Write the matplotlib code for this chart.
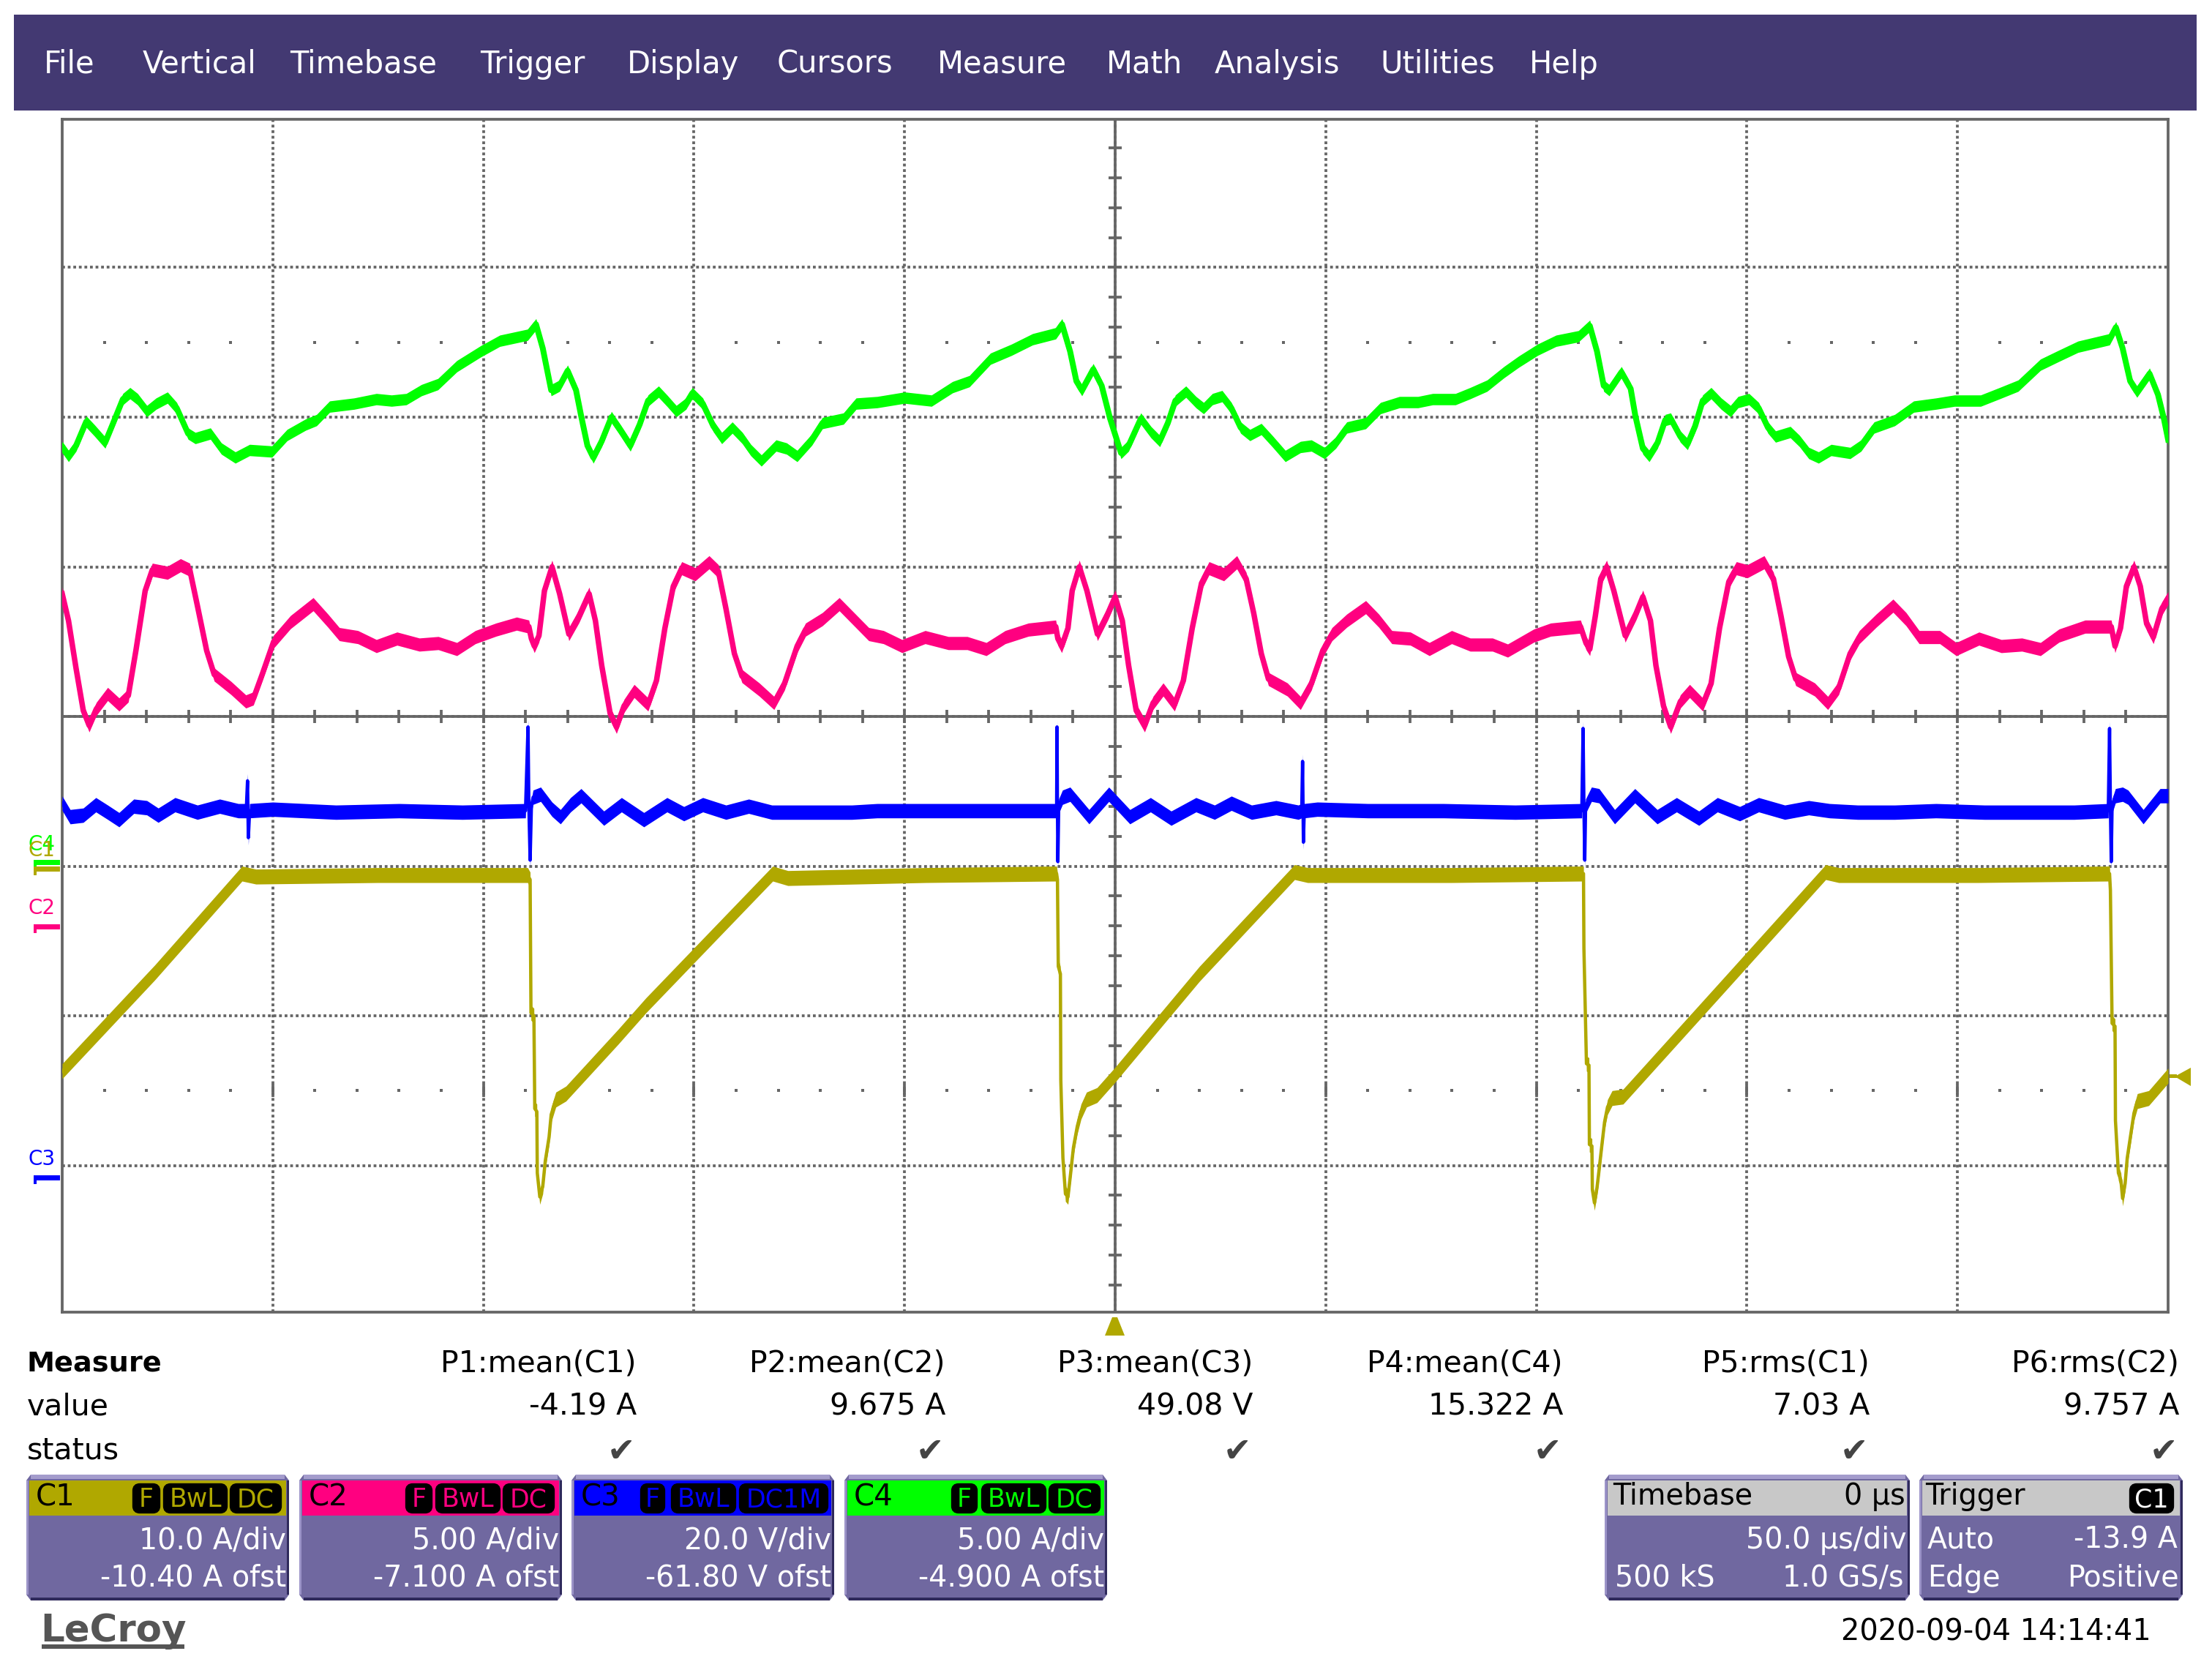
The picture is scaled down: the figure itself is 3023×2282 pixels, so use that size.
import numpy as np
import matplotlib
matplotlib.use('agg')
import matplotlib.pyplot as plt
from matplotlib.patches import FancyBboxPatch, Polygon, Rectangle

# traces: time in us, level in screen divisions from centre
c4_t = [-250.0, -248.5, -246.7, -244.3, -242.3, -239.8, -237.9, -235.6, -233.9, -232.1, -229.9, -227.7, -225.0, -222.8, -220.1, -218.4, -214.8, -212.2, -208.9, -205.5, -200.2, -196.6, -192.2, -189.6, -186.5, -180.7, -175.4, -171.8, -168.3, -164.7, -160.8, -156.3, -150.6, -146.1, -139.5, -137.5, -135.9, -133.9, -131.9, -130.0, -128.0,
        -126.8, -125.3, -123.9, -121.9, -119.6, -117.4, -115.1, -112.9, -110.9, -108.4, -106.4, -104.2, -101.9, -100.4, -97.9, -95.4, -93.4, -90.9, -88.5, -86.5, -84.0, -80.5, -78.0, -75.5, -72.0, -69.5, -64.5, -61.5, -56.5, -50.0, -43.6, -38.6, -34.6, -29.6, -24.6, -19.6, -14.1, -12.6, -10.7, -9.2, -7.9, -5.2, -3.2, -1.2,
        1.4, 3.2, 6.1, 8.5, 10.6, 12.5, 14.3, 16.8, 19.2, 21.0, 23.1, 25.4, 27.6, 29.8, 32.0, 34.7, 37.3, 40.4, 44.0, 46.6, 49.7, 52.4, 55.0, 59.5, 63.0, 67.5, 71.9, 75.4, 80.8, 84.3, 88.3, 92.3, 95.8, 100.3, 104.7, 110.0, 112.7, 114.4, 116.0, 117.3, 120.2, 122.4,
        123.5, 125.3, 126.8, 128.8, 130.6, 131.9, 134.2, 135.9, 137.7, 139.5, 141.5, 143.9, 146.1, 147.9, 150.5, 152.8, 155.0, 156.8, 160.3, 162.5, 164.7, 167.0, 170.0, 174.5, 177.1, 180.2, 185.1, 189.6, 194.9, 199.3, 205.5, 210.0, 214.4, 219.7, 224.1, 228.6, 236.1, 237.6, 239.2, 241.0, 242.6, 245.6, 247.6, 249.0, 250.0]
c4_v = [1.80, 1.74, 1.81, 1.97, 1.91, 1.83, 1.96, 2.12, 2.16, 2.12, 2.04, 2.09, 2.13, 2.06, 1.89, 1.86, 1.89, 1.79, 1.73, 1.78, 1.77, 1.88, 1.95, 1.98, 2.07, 2.09, 2.12, 2.11, 2.12, 2.18, 2.22, 2.34, 2.44, 2.51, 2.55, 2.62, 2.46, 2.18, 2.21, 2.31, 2.18,
        2.01, 1.81, 1.73, 1.84, 2.00, 1.91, 1.81, 1.95, 2.11, 2.17, 2.11, 2.04, 2.09, 2.16, 2.09, 1.94, 1.86, 1.93, 1.86, 1.78, 1.71, 1.81, 1.79, 1.74, 1.85, 1.96, 1.99, 2.09, 2.10, 2.13, 2.11, 2.20, 2.24, 2.39, 2.45, 2.52, 2.56, 2.62, 2.44, 2.24, 2.18, 2.32, 2.21, 1.99,
        1.76, 1.81, 1.99, 1.90, 1.84, 1.96, 2.11, 2.17, 2.10, 2.06, 2.12, 2.14, 2.06, 1.93, 1.88, 1.92, 1.84, 1.74, 1.80, 1.81, 1.76, 1.83, 1.93, 1.96, 2.06, 2.10, 2.10, 2.12, 2.12, 2.16, 2.21, 2.30, 2.37, 2.45, 2.51, 2.54, 2.61, 2.44, 2.21, 2.18, 2.30, 2.19,
        2.01, 1.79, 1.74, 1.83, 1.98, 1.99, 1.87, 1.82, 1.94, 2.11, 2.16, 2.09, 2.04, 2.10, 2.12, 2.06, 1.93, 1.87, 1.90, 1.84, 1.76, 1.73, 1.78, 1.76, 1.81, 1.93, 1.98, 2.07, 2.09, 2.11, 2.11, 2.16, 2.21, 2.35, 2.41, 2.47, 2.52, 2.60, 2.46, 2.24, 2.17, 2.29, 2.15, 1.99, 1.85]

c2_t = [-250.0, -248.5, -246.7, -245.0, -243.6, -241.9, -239.2, -236.5, -234.3, -232.5, -230.3, -228.6, -225.0, -221.9, -219.7, -217.9, -215.7, -213.9, -209.9, -206.4, -204.6, -202.4, -199.8, -195.8, -190.4, -186.9, -184.2, -179.8, -175.4, -170.5, -165.2, -160.7, -156.3, -151.9, -147.0, -142.1, -139.2, -138.6, -137.9, -136.8, -135.5, -133.7, -131.9, -129.7,
        -127.3, -124.9, -123.4, -121.9, -119.9, -118.4, -116.6, -114.2, -110.9, -108.9, -106.9, -104.9, -102.9, -99.7, -96.4, -94.2, -92.4, -90.4, -88.6, -84.5, -81.0, -78.5, -75.5, -73.5, -69.5, -65.5, -62.0, -58.5, -55.0, -50.6, -45.1, -39.6, -35.1, -30.6, -26.1, -20.6, -14.1, -13.6, -12.7, -11.2, -10.2, -8.5, -6.7, -4.2, -1.7, 0.0,
        1.7, 3.2, 5.0, 7.0, 9.0, 11.4, 14.1, 16.2, 18.3, 20.5, 22.3, 25.8, 28.9, 31.1, 32.9, 34.7, 36.4, 40.9, 44.0, 46.6, 49.3, 51.5, 55.0, 59.5, 62.6, 65.7, 70.1, 74.6, 79.9, 84.3, 89.6, 93.2, 99.4, 103.4, 110.5, 111.8, 112.7, 114.0, 115.3, 116.7, 118.4, 121.1, 123.7, 125.3,
        127.1, 128.4, 130.2, 131.9, 134.2, 136.4, 139.5, 141.5, 143.5, 145.7, 147.5, 150.1, 154.1, 156.3, 158.1, 159.9, 161.6, 166.1, 169.2, 171.8, 174.5, 176.7, 180.7, 184.7, 187.8, 190.9, 195.8, 199.7, 205.1, 210.4, 215.3, 219.7, 224.1, 230.3, 236.5, 237.4, 238.7, 240.1, 241.9, 243.4, 244.9, 246.5, 248.5, 250.0]
c2_v = [0.82, 0.64, 0.32, 0.04, -0.06, 0.05, 0.15, 0.08, 0.14, 0.44, 0.84, 0.98, 0.96, 1.01, 0.98, 0.74, 0.44, 0.28, 0.19, 0.10, 0.12, 0.29, 0.50, 0.63, 0.75, 0.64, 0.55, 0.53, 0.47, 0.52, 0.48, 0.49, 0.45, 0.53, 0.58, 0.62, 0.60, 0.52, 0.47, 0.54, 0.84, 1.00, 0.82, 0.55,
        0.67, 0.82, 0.64, 0.34, 0.02, -0.07, 0.07, 0.17, 0.08, 0.24, 0.59, 0.87, 0.99, 0.95, 1.03, 0.97, 0.72, 0.42, 0.27, 0.18, 0.09, 0.22, 0.47, 0.58, 0.65, 0.75, 0.65, 0.55, 0.53, 0.47, 0.53, 0.49, 0.49, 0.45, 0.53, 0.58, 0.60, 0.52, 0.47, 0.59, 0.84, 1.00, 0.84, 0.55, 0.69, 0.80,
        0.64, 0.34, 0.04, -0.06, 0.09, 0.18, 0.08, 0.24, 0.59, 0.89, 0.99, 0.95, 1.03, 0.92, 0.69, 0.42, 0.25, 0.18, 0.09, 0.22, 0.44, 0.55, 0.64, 0.73, 0.64, 0.53, 0.52, 0.45, 0.53, 0.48, 0.48, 0.44, 0.54, 0.58, 0.60, 0.49, 0.45, 0.67, 0.92, 1.00, 0.84, 0.54, 0.69, 0.80,
        0.64, 0.34, 0.07, -0.07, 0.10, 0.17, 0.08, 0.22, 0.59, 0.90, 0.99, 0.97, 1.03, 0.92, 0.67, 0.40, 0.25, 0.18, 0.09, 0.19, 0.42, 0.53, 0.64, 0.74, 0.65, 0.53, 0.53, 0.45, 0.52, 0.47, 0.48, 0.45, 0.54, 0.60, 0.60, 0.47, 0.59, 0.87, 1.00, 0.87, 0.62, 0.53, 0.72, 0.79]

c3_t = [-250.0, -248.1, -245.0, -242.0, -239.2, -236.5, -233.0, -229.9, -227.2, -223.2, -217.9, -212.6, -208.2, -206.3, -206.0, -205.8, -205.5, -200.0, -185.0, -170.0, -155.0, -140.0, -139.4, -139.2, -138.9, -138.6, -138.2, -136.4, -133.7, -131.7, -129.3, -126.8, -121.4, -117.2, -111.9, -106.4, -102.4, -97.9, -92.4, -87.0, -81.5, -73.5, -62.5, -56.5, -43.6, -28.6, -14.6, -13.9, -13.8, -13.7, -13.6, -13.4, -12.5, -10.7, -6.2, -1.5, 3.5, 8.4, 13.3, 19.2, 23.6, 27.6, 32.4, 38.2, 43.5, 44.3, 44.5, 44.7, 44.9, 48.0, 60.0, 78.0, 95.0, 110.8, 111.1, 111.3, 111.5, 111.7, 113.1, 114.9, 118.6, 123.4, 128.7, 133.3, 138.6, 143.0, 148.3, 152.8, 159.0, 164.7, 169.6, 176.3, 185.1, 194.9, 206.4, 227.7, 235.8, 236.1, 236.3, 236.5, 236.7, 237.5, 239.2, 240.5, 244.1, 248.1, 250.0]
c3_v = [-0.58, -0.67, -0.66, -0.59, -0.64, -0.69, -0.60, -0.61, -0.66, -0.59, -0.64, -0.60, -0.63, -0.63, -0.43, -0.81, -0.63, -0.62, -0.64, -0.63, -0.64, -0.63, -0.07, -0.60, -0.96, -0.60, -0.54, -0.52, -0.62, -0.67, -0.59, -0.53, -0.68, -0.59, -0.69, -0.59, -0.65, -0.59, -0.64, -0.60, -0.64, -0.64, -0.64, -0.63, -0.63, -0.63, -0.63, -0.63, -0.07, -0.60, -0.97, -0.60, -0.54, -0.52, -0.67, -0.52, -0.67, -0.59, -0.68, -0.59, -0.64, -0.58, -0.64, -0.61, -0.64, -0.63, -0.30, -0.84, -0.63, -0.62, -0.63, -0.63, -0.64, -0.63, -0.08, -0.60, -0.96, -0.60, -0.52, -0.53, -0.67, -0.53, -0.67, -0.59, -0.68, -0.59, -0.65, -0.59, -0.64, -0.61, -0.63, -0.64, -0.64, -0.63, -0.64, -0.64, -0.63, -0.08, -0.60, -0.97, -0.60, -0.53, -0.52, -0.54, -0.67, -0.53, -0.53]

c1_t = [-250.0, -228.0, -207.3, -204.0, -175.0, -139.5, -138.9, -138.7, -138.0, -137.8, -137.3, -137.2, -136.6, -135.9, -135.3, -134.4, -133.9, -132.8, -130.4, -118.0, -111.4, -100.8, -81.3, -77.7, -45.0, -13.9, -13.7, -13.5, -13.0, -12.9, -12.4, -11.8, -11.2, -10.6, -9.9, -9.0, -8.1, -6.8, -4.3, -0.2, 20.0, 42.6, 45.7, 80.0, 111.2, 111.3, 111.9, 112.5, 112.6, 113.2, 113.3, 113.8, 114.4, 114.9, 115.5, 116.2, 116.9, 118.0, 120.6, 145.0, 168.7, 171.8, 205.0, 236.1, 236.3, 236.7, 237.4, 237.5, 238.2, 238.8, 239.2, 239.8, 240.3, 241.1, 241.9, 242.7, 245.4, 250.0]
c1_v = [-2.37, -1.71, -1.05, -1.07, -1.06, -1.06, -1.09, -1.98, -2.00, -2.62, -2.64, -3.05, -3.21, -3.14, -2.97, -2.81, -2.66, -2.56, -2.52, -2.14, -1.93, -1.62, -1.05, -1.08, -1.06, -1.05, -1.09, -1.67, -1.72, -2.43, -2.95, -3.19, -3.21, -3.06, -2.88, -2.74, -2.64, -2.56, -2.53, -2.40, -1.72, -1.04, -1.06, -1.06, -1.05, -1.55, -2.32, -2.33, -2.86, -2.87, -3.16, -3.25, -3.15, -3.03, -2.88, -2.71, -2.61, -2.55, -2.54, -1.78, -1.04, -1.06, -1.06, -1.05, -1.16, -2.05, -2.07, -2.70, -3.05, -3.10, -3.22, -3.12, -2.95, -2.80, -2.65, -2.57, -2.55, -2.40]

menu_names = ['File', 'Vertical', 'Timebase', 'Trigger', 'Display', 'Cursors', 'Measure', 'Math', 'Analysis', 'Utilities', 'Help']
menu_x = [60, 195, 396, 656, 857, 1062, 1281, 1512, 1660, 1886, 2090]

meas_names = ['P1:mean(C1)', 'P2:mean(C2)', 'P3:mean(C3)', 'P4:mean(C4)', 'P5:rms(C1)', 'P6:rms(C2)']
meas_values = ['-4.19 A', '9.675 A', '49.08 V', '15.322 A', '7.03 A', '9.757 A']
meas_right = [870, 1292, 1712, 2136, 2555, 2978]

channels = ['C1', 'C2', 'C3', 'C4']
scales = ['10.0 A/div', '5.00 A/div', '20.0 V/div', '5.00 A/div']
offsets = ['-10.40 A ofst', '-7.100 A ofst', '-61.80 V ofst', '-4.900 A ofst']
couplings = ['DC', 'DC', 'DC1M', 'DC']

OLIVE = '#b0a800'
PINK = '#ff0080'
BLUE = '#0000ff'
GREEN = '#00ff00'
GRID = '#666666'
MENU = '#433972'
BODY = '#7068a0'
PX = 0.72  # points per pixel at dpi 100
W, H = 3023, 2282

plt.rcParams['font.family'] = ['DejaVu Sans']
fig = plt.figure(figsize=(W / 100, H / 100), dpi=100, facecolor='white')

# everything around the grid is laid out in pixels
ui = fig.add_axes([0, 0, 1, 1])
ui.set_xlim(0, W)
ui.set_ylim(H, 0)
ui.axis('off')

ax = fig.add_axes([85 / W, (H - 1793) / H, 2878 / W, 1630 / H])
ax.set_xlim(-250, 250)
ax.set_ylim(-3.98, 3.99)
ax.set_xticks(np.arange(-200, 201, 50))
ax.set_yticks(np.arange(-3, 4))
ax.tick_params(length=0, labelbottom=False, labelleft=False)
ax.grid(True, color=GRID, lw=3.8 * PX, linestyle=(0, (1, 1)))
ax.set_axisbelow(True)
for s in ax.spines.values():
    s.set_color(GRID)
    s.set_linewidth(3.8 * PX)

# centre cross with its 0.2 div ticks
ax.axhline(0, color=GRID, lw=3.8 * PX, zorder=1.5)
ax.axvline(0, color=GRID, lw=3.8 * PX, zorder=1.5)
xt = np.arange(-240, 241, 10)
yt = np.arange(-3.8, 3.9, 0.2)
ax.plot(xt, np.zeros_like(xt), '|', color=GRID, ms=18 * PX, mew=3.8 * PX, zorder=1.5)
ax.plot(np.zeros_like(yt), yt, '_', color=GRID, ms=18 * PX, mew=3.8 * PX, zorder=1.5)
for lvl in (2.5, -2.5):
    ax.plot(xt, np.full_like(xt, lvl, dtype=float), 's', color=GRID, ms=3.8 * PX, mew=0, zorder=1.5)
ax.plot(np.arange(-200, 201, 50), np.full(9, -2.5), '|', color=GRID, ms=18 * PX, mew=3.8 * PX, zorder=1.5)

# line width sets the look of the steep edges, the band the noise on the flat parts
traces = [(c1_t, c1_v, OLIVE, 0.050, 4.5), (c2_t, c2_v, PINK, 0.044, 7.5),
          (c3_t, c3_v, BLUE, 0.048, 4.5), (c4_t, c4_v, GREEN, 0.038, 8)]
for t, v, col, band, lw in traces:
    t, v = np.array(t), np.array(v)
    ax.fill_between(t, v - band, v + band, color=col, lw=0, zorder=3)
    ax.plot(t, v, color=col, lw=lw * PX, zorder=3)

# menu bar
ui.add_patch(Rectangle((19, 20), 2983, 131, color=MENU, lw=0))
for name, x in zip(menu_names, menu_x):
    ui.text(x, 100, name, color='white', fontsize=30, ha='left', va='baseline')

# channel markers left of the grid
marks = [('C4', GREEN, 1162, 1178), ('C1', OLIVE, 1170, 1187), ('C2', PINK, 1249, 1266), ('C3', BLUE, 1592, 1609)]
for name, col, ytxt, ybar in marks:
    ui.text(38, ytxt, name, color=col, fontsize=20, ha='left', va='baseline')
    ui.add_patch(Rectangle((46, ybar - 3), 36, 7, color=col, lw=0))
    ui.add_patch(Rectangle((46, ybar - 3), 4, 12, color=col, lw=0))

# trigger markers
ui.add_patch(Polygon([[1520, 1800], [1527, 1800], [1537, 1825], [1510, 1825]], color=OLIVE, lw=0))
ui.add_patch(Rectangle((2963, 1468), 12, 5, color=OLIVE, lw=0))
ui.add_patch(Polygon([[2972, 1471], [2994, 1459], [2994, 1484]], color=OLIVE, lw=0))

# measure table
ui.text(37, 1874, 'Measure', fontsize=27.5, fontweight='bold', ha='left', va='baseline')
ui.text(37, 1934, 'value', fontsize=29.5, ha='left', va='baseline')
ui.text(37, 1993, 'status', fontsize=29.5, ha='left', va='baseline')
for name, val, x in zip(meas_names, meas_values, meas_right):
    ui.text(x, 1874, name, fontsize=29.5, ha='right', va='baseline')
    ui.text(x, 1934, val, fontsize=29.5, ha='right', va='baseline')
    ui.text(x - 2, 1997, '\u2714', fontsize=33, color='#444444', ha='right', va='baseline')


def box(x0, x1, head):
    y0, y1 = 2015, 2187
    ui.add_patch(Polygon([[x0 + 6, y0], [x1 - 6, y0], [x1, y0 + 8], [x1, y1 - 8], [x1 - 6, y1],
                          [x0 + 6, y1], [x0, y1 - 8], [x0, y0 + 8]], color=BODY, lw=0))
    ui.add_patch(Rectangle((x0 + 6, y0), x1 - x0 - 12, 6, color='#a49ccc', lw=0))
    ui.add_patch(Rectangle((x0 + 6, y1 - 4), x1 - x0 - 12, 4, color='#2f2a5c', lw=0))
    ui.add_patch(Rectangle((x0, y0 + 8), 3, y1 - y0 - 16, color='#9c94c8', lw=0))
    ui.add_patch(Rectangle((x1 - 3, y0 + 8), 3, y1 - y0 - 16, color='#2f2a5c', lw=0))
    ui.add_patch(Rectangle((x0 + 4, 2023), x1 - x0 - 8, 48, color=head, lw=0))


def pill(x0, x1, label, col):
    ui.add_patch(FancyBboxPatch((x0 + 4, 2031), x1 - x0 - 8, 33, boxstyle='round,pad=0,rounding_size=6',
                                mutation_aspect=1, ec='black', fc='black', lw=6))
    ui.text((x0 + x1) / 2, 2059, label, color=col, fontsize=25, ha='center', va='baseline')


box_x = [(36, 395), (409, 768), (781, 1140), (1154, 1513)]
heads = [OLIVE, PINK, BLUE, GREEN]
pills = [[(181, 219), (223, 311), (314, 385)], [(554, 591), (595, 684), (687, 758)],
         [(875, 909), (917, 1006), (1010, 1132)], [(1300, 1336), (1341, 1430), (1433, 1504)]]
for i, (x0, x1) in enumerate(box_x):
    box(x0, x1, heads[i])
    ui.text(x0 + 13, 2058, channels[i], color='black', fontsize=29, ha='left', va='baseline')
    for (p0, p1), label in zip(pills[i], ['F', 'BwL', couplings[i]]):
        pill(p0, p1, label, heads[i])
    ui.text(x1 - 4, 2116, scales[i], color='white', fontsize=28.5, ha='right', va='baseline')
    ui.text(x1 - 4, 2168, offsets[i], color='white', fontsize=28.5, ha='right', va='baseline')

# timebase and trigger boxes
box(2193, 2610, '#c8c8c8')
ui.text(2204, 2056, 'Timebase', fontsize=28.5, ha='left', va='baseline')
ui.text(2604, 2056, '0 \u00b5s', fontsize=28.5, ha='right', va='baseline')
ui.text(2606, 2116, '50.0 \u00b5s/div', color='white', fontsize=28.5, ha='right', va='baseline')
ui.text(2207, 2168, '500 kS', color='white', fontsize=28.5, ha='left', va='baseline')
ui.text(2602, 2168, '1.0 GS/s', color='white', fontsize=28.5, ha='right', va='baseline')

box(2623, 2983, '#c8c8c8')
ui.text(2631, 2056, 'Trigger', fontsize=28.5, ha='left', va='baseline')
pill(2910, 2971, 'C1', 'white')
ui.text(2634, 2116, 'Auto', color='white', fontsize=28.5, ha='left', va='baseline')
ui.text(2976, 2116, '-13.9 A', color='white', fontsize=28.5, ha='right', va='baseline')
ui.text(2634, 2168, 'Edge', color='white', fontsize=28.5, ha='left', va='baseline')
ui.text(2978, 2168, 'Positive', color='white', fontsize=28.5, ha='right', va='baseline')

# logo and time stamp
ui.text(55, 2243, 'LeCroy', color='#555555', fontsize=37, fontweight='bold', ha='left', va='baseline')
ui.add_patch(Rectangle((57, 2247), 195, 6, color='#555555', lw=0))
ui.text(2940, 2242, '2020-09-04 14:14:41', fontsize=28.7, ha='right', va='baseline')

fig.savefig('out.png', dpi=100)
plt.close()
